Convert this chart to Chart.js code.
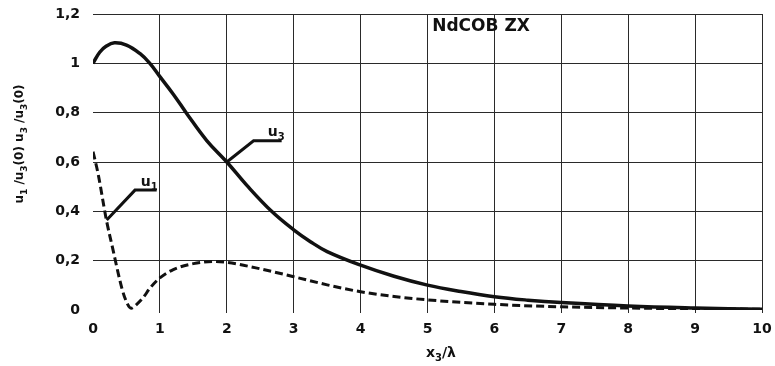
<!DOCTYPE html>
<html>
<head>
<meta charset="utf-8">
<script src="https://cdn.jsdelivr.net/npm/chart.js@4/dist/chart.umd.min.js"></script>
<style>
  html, body { margin: 0; padding: 0; background: #fff; }
  #wrap { width: 775px; height: 366px; }
</style>
</head>
<body>
<div id="wrap"><canvas id="c" width="775" height="366"></canvas></div>
<script>
// Normalised displacement amplitudes versus depth x3/λ
const xU3 = [0, 0.1, 0.2, 0.32, 0.5, 0.7, 0.85, 1, 1.2, 1.4, 1.7, 2, 2.3, 2.67, 3, 3.25, 3.5, 4, 4.5, 5, 5.5, 6, 6.5, 7, 8, 9, 10];
const u3  = [1.0, 1.045, 1.07, 1.083, 1.074, 1.04, 1.0, 0.946, 0.875, 0.797, 0.687, 0.6, 0.505, 0.4, 0.325, 0.277, 0.237, 0.182, 0.137, 0.101, 0.075, 0.054, 0.040, 0.030, 0.016, 0.008, 0.003];

const xU1 = [0, 0.075, 0.2, 0.3, 0.4, 0.47, 0.57, 0.65, 0.75, 0.85, 1, 1.2, 1.5, 1.8, 2, 2.5, 3, 3.5, 4, 4.5, 5, 6, 7, 8, 9, 10];
const u1  = [0.642, 0.554, 0.365, 0.243, 0.122, 0.054, 0.007, 0.022, 0.05, 0.088, 0.13, 0.164, 0.188, 0.197, 0.193, 0.167, 0.135, 0.102, 0.074, 0.055, 0.041, 0.023, 0.013, 0.008, 0.005, 0.003];

// Leader lines for the curve labels
const leaderU3X = [2, 2.4, 2.82];
const leaderU3Y = [0.6, 0.686, 0.686];
const leaderU1X = [0.205, 0.628, 0.952];
const leaderU1Y = [0.365, 0.486, 0.486];

const xTickLabels = ['0', '1', '2', '3', '4', '5', '6', '7', '8', '9', '10'];
const yTickLabels = ['0', '0,2', '0,4', '0,6', '0,8', '1', '1,2'];

const pts = (xs, ys) => xs.map((x, i) => ({ x: x, y: ys[i] }));

const FONT = '"DejaVu Sans", "Liberation Sans", Arial, sans-serif';
const INK = '#111';
const GRID = '#2a2a2a';

// Draw text made of normal and subscript pieces, centred on (cx, cy)
function drawRich(ctx, parts, cx, cy, size) {
  const subSize = Math.round(size * 0.72);
  const widths = parts.map(p => {
    ctx.font = 'bold ' + (p.sub ? subSize : size) + 'px ' + FONT;
    return ctx.measureText(p.t).width;
  });
  const total = widths.reduce((a, b) => a + b, 0);
  let x = cx - total / 2;
  ctx.textBaseline = 'alphabetic';
  ctx.textAlign = 'left';
  parts.forEach((p, i) => {
    ctx.font = 'bold ' + (p.sub ? subSize : size) + 'px ' + FONT;
    ctx.fillText(p.t, x, cy + size * 0.36 + (p.sub ? size * 0.3 : 0));
    x += widths[i];
  });
}

const textPlugin = {
  id: 'textPlugin',
  afterDraw(chart) {
    const ctx = chart.ctx;
    const xs = chart.scales.x, ys = chart.scales.y;
    ctx.save();
    ctx.fillStyle = INK;

    // Panel caption
    ctx.font = 'bold 17px ' + FONT;
    ctx.textAlign = 'center';
    ctx.textBaseline = 'middle';
    ctx.fillText('NdCOB ZX', xs.getPixelForValue(5.8), ys.getPixelForValue(1.147));

    // Curve labels
    drawRich(ctx, [{ t: 'u' }, { t: '3', sub: true }], xs.getPixelForValue(2.74), ys.getPixelForValue(0.725), 14);
    drawRich(ctx, [{ t: 'u' }, { t: '1', sub: true }], xs.getPixelForValue(0.84), ys.getPixelForValue(0.525), 14);

    // X axis title
    drawRich(ctx, [{ t: 'x' }, { t: '3', sub: true }, { t: '/λ' }], 441, 352, 14);

    // Y axis title (rotated)
    ctx.save();
    ctx.translate(19, 144);
    ctx.rotate(-Math.PI / 2);
    drawRich(ctx, [
      { t: 'u' }, { t: '1', sub: true }, { t: ' /u' }, { t: '3', sub: true },
      { t: '(0) u' }, { t: '3', sub: true }, { t: ' /u' }, { t: '3', sub: true }, { t: '(0)' }
    ], 0, 0, 12);
    ctx.restore();

    ctx.restore();
  }
};

const whiteBg = {
  id: 'whiteBg',
  beforeDraw(chart) {
    const ctx = chart.ctx;
    ctx.save();
    ctx.fillStyle = '#fff';
    ctx.fillRect(0, 0, chart.width, chart.height);
    ctx.restore();
  }
};

// Fixed axis boxes so the plot area keeps its place
function fixBox(scale, size) {
  if (scale.isHorizontal()) scale.height = size; else scale.width = size;
  scale.paddingTop = 0;
  scale.paddingBottom = 0;
  scale.paddingLeft = 0;
  scale.paddingRight = 0;
}

new Chart(document.getElementById('c'), {
  type: 'line',
  data: {
    datasets: [
      {
        label: 'u3',
        data: pts(xU3, u3),
        borderColor: INK,
        borderWidth: 3.5,
        pointRadius: 0,
        tension: 0.4,
        fill: false
      },
      {
        label: 'u1',
        data: pts(xU1, u1),
        borderColor: INK,
        borderWidth: 3,
        borderDash: [8, 4],
        pointRadius: 0,
        cubicInterpolationMode: 'monotone',
        fill: false
      },
      {
        label: 'leader u3',
        data: pts(leaderU3X, leaderU3Y),
        borderColor: INK,
        borderWidth: 3,
        pointRadius: 0,
        tension: 0,
        fill: false
      },
      {
        label: 'leader u1',
        data: pts(leaderU1X, leaderU1Y),
        borderColor: INK,
        borderWidth: 3,
        pointRadius: 0,
        tension: 0,
        fill: false
      }
    ]
  },
  options: {
    responsive: false,
    animation: false,
    layout: { padding: { top: 14, right: 13, left: 0, bottom: 0 } },
    plugins: {
      legend: { display: false },
      tooltip: { enabled: false }
    },
    scales: {
      x: {
        type: 'linear',
        min: 0,
        max: 10,
        afterFit(scale) { fixBox(scale, 56); },
        border: { display: false },
        grid: {
          color: c => (c.tick && c.tick.value === 0 ? 'rgba(0,0,0,0)' : GRID),
          lineWidth: 1,
          drawTicks: true,
          tickLength: 3
        },
        ticks: {
          stepSize: 1,
          padding: 8,
          color: INK,
          font: { family: FONT, size: 14, weight: 'bold' },
          maxRotation: 0,
          callback: (v, i) => xTickLabels[i]
        }
      },
      y: {
        min: 0,
        max: 1.2,
        afterFit(scale) { fixBox(scale, 93); },
        border: { display: false },
        grid: {
          color: c => (c.tick && c.tick.value === 0 ? 'rgba(0,0,0,0)' : GRID),
          lineWidth: 1,
          drawTicks: false
        },
        ticks: {
          stepSize: 0.2,
          padding: 13,
          color: INK,
          font: { family: FONT, size: 14, weight: 'bold' },
          callback: (v, i) => yTickLabels[i]
        }
      }
    }
  },
  plugins: [whiteBg, textPlugin]
});
</script>
</body>
</html>
